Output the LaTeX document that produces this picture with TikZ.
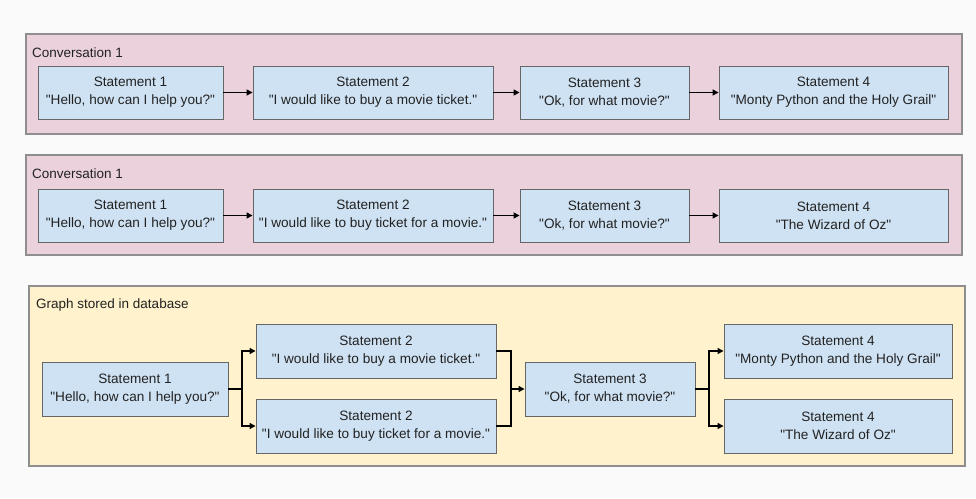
\documentclass[tikz,border=0pt]{standalone}
\usepackage{fontspec}
% straight ASCII quotes, no TeX quote ligatures
\setmainfont{Liberation Sans}[Ligatures=TeXOff]
\usetikzlibrary{arrows.meta}
\definecolor{pagebg}{HTML}{FAFAFA}
\definecolor{convpink}{HTML}{EAD1DC}
\definecolor{graphyellow}{HTML}{FFF2CC}
\definecolor{stmtblue}{HTML}{CFE2F3}
\definecolor{frameedge}{HTML}{8E8E8E}
\definecolor{boxedge}{HTML}{666666}
\definecolor{ink}{HTML}{222222}
\tikzset{
  panel/.style={draw=frameedge, line width=1.2pt, inner sep=0pt},
  panellabel/.style={anchor=west, inner sep=0pt, text=ink, font=\fontsize{13.5}{16}\selectfont},
  stmt/.style={draw=boxedge, line width=0.9pt, fill=stmtblue, inner sep=0pt,
    minimum height=53pt, align=center, text=ink, font=\fontsize{13.6}{18}\selectfont},
  flow/.style={line width=1.3pt, draw=black, -{Triangle[length=6pt,width=6pt]}},
  joint/.style={line width=1.3pt, draw=black}
}
\begin{document}
\begin{tikzpicture}[x=1pt, y=-1pt]
  \fill[pagebg] (0,0) rectangle (976,498);
  \useasboundingbox (0,0) rectangle (976,498);

  % first conversation
  \node[panel, fill=convpink, minimum width=936pt, minimum height=100pt] (convA) at (494,84) {};
  \node[panellabel] (convAlabel) at (32,53) {Conversation 1};
  \node[stmt, minimum width=185pt] (a1) at (130.5,92.5) {Statement 1\\"Hello, how can I help you?"};
  \node[stmt, minimum width=240pt] (a2) at (373,92.5) {Statement 2\\"I would like to buy a movie ticket."};
  \node[stmt, minimum width=169pt] (a3) at (604.5,92.5) {Statement 3\\"Ok, for what movie?"};
  \node[stmt, minimum width=229pt] (a4) at (833.5,92.5) {Statement 4\\"Monty Python and the Holy Grail"};
  \draw[flow] (a1) -- (a2);
  \draw[flow] (a2) -- (a3);
  \draw[flow] (a3) -- (a4);

  % second conversation
  \node[panel, fill=convpink, minimum width=936pt, minimum height=100pt] (convB) at (494,205) {};
  \node[panellabel] (convBlabel) at (32,174) {Conversation 1};
  \node[stmt, minimum width=185pt] (b1) at (130.5,215.5) {Statement 1\\"Hello, how can I help you?"};
  \node[stmt, minimum width=240pt] (b2) at (373,215.5) {Statement 2\\"I would like to buy ticket for a movie."};
  \node[stmt, minimum width=169pt] (b3) at (604.5,215.5) {Statement 3\\"Ok, for what movie?"};
  \node[stmt, minimum width=229pt] (b4) at (833.5,215.5) {Statement 4\\"The Wizard of Oz"};
  \draw[flow] (b1) -- (b2);
  \draw[flow] (b2) -- (b3);
  \draw[flow] (b3) -- (b4);

  % merged graph
  \node[panel, fill=graphyellow, minimum width=936pt, minimum height=180pt] (graph) at (497,376) {};
  \node[panellabel] (graphlabel) at (36,305) {Graph stored in database};
  \node[stmt, minimum width=186pt, minimum height=54pt] (g1) at (135,389) {Statement 1\\"Hello, how can I help you?"};
  \node[stmt, minimum width=240pt, minimum height=54pt] (g2a) at (376,351) {Statement 2\\"I would like to buy a movie ticket."};
  \node[stmt, minimum width=240pt, minimum height=54pt] (g2b) at (376,426) {Statement 2\\"I would like to buy ticket for a movie."};
  \node[stmt, minimum width=170pt, minimum height=54pt] (g3) at (610,389) {Statement 3\\"Ok, for what movie?"};
  \node[stmt, minimum width=228pt, minimum height=54pt] (g4a) at (838,351) {Statement 4\\"Monty Python and the Holy Grail"};
  \node[stmt, minimum width=228pt, minimum height=54pt] (g4b) at (838,426) {Statement 4\\"The Wizard of Oz"};

  \coordinate (split1) at (242,389);
  \coordinate (merge) at (511,389);
  \coordinate (split2) at (709,389);
  \draw[joint] (g1.east) -- (split1);
  \draw[flow] (split1) |- (g2a.west);
  \draw[flow] (split1) |- (g2b.west);
  \draw[joint] (g2a.east) -| (merge);
  \draw[joint] (g2b.east) -| (merge);
  \draw[flow] (merge) -- (g3.west);
  \draw[joint] (g3.east) -- (split2);
  \draw[flow] (split2) |- (g4a.west);
  \draw[flow] (split2) |- (g4b.west);
\end{tikzpicture}
\end{document}
